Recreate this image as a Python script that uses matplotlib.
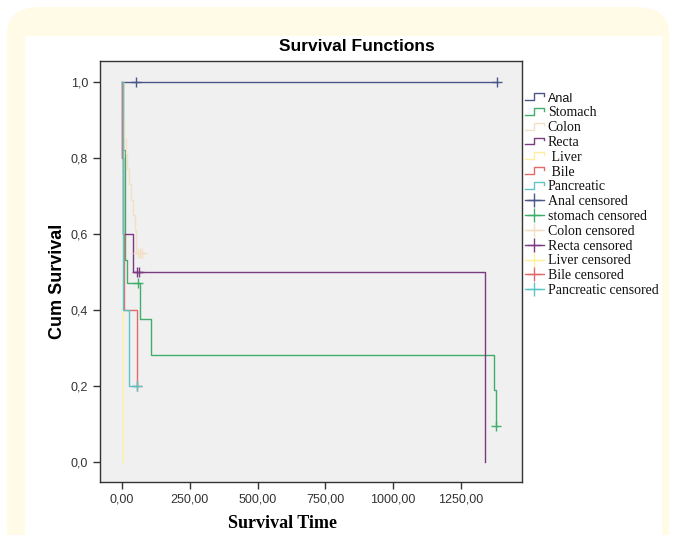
import matplotlib
matplotlib.use('Agg')
import matplotlib.pyplot as plt
from matplotlib.lines import Line2D
from matplotlib.legend_handler import HandlerBase
from matplotlib.patches import FancyBboxPatch, Rectangle
from matplotlib.ticker import FuncFormatter

# groupes et courbes de survie
groups = ['Anal', 'Stomach', 'Colon', 'Recta', 'Liver', 'Bile', 'Pancreatic']
legend_names = ['Anal', 'Stomach', 'Colon', 'Recta', ' Liver', ' Bile', 'Pancreatic']
censor_names = ['Anal censored', 'stomach censored', 'Colon censored', 'Recta censored',
                'Liver censored', 'Bile censored', 'Pancreatic censored']
colors = ['#4a5688', '#3fae6a', '#f3e0c4', '#7c3a80', '#fff0a0', '#e06a6a', '#5cc6c6']

anal_t = [0, 1383]
anal_s = [1.0, 1.0]
stomach_t = [0, 2, 5, 10, 18, 66, 107, 1372, 1380]
stomach_s = [1.0, 0.94, 0.82, 0.53, 0.47, 0.375, 0.28, 0.19, 0.095]
colon_t = [0, 2, 8, 14, 20, 27, 34, 41, 48, 53, 74]
colon_s = [1.0, 0.9, 0.85, 0.81, 0.77, 0.73, 0.69, 0.65, 0.61, 0.55, 0.55]
recta_t = [0, 1, 3, 42, 1340]
recta_s = [1.0, 0.8, 0.6, 0.5, 0.0]
liver_t = [0, 5]
liver_s = [1.0, 0.0]
bile_t = [0, 1, 3, 7, 55]
bile_s = [1.0, 0.8, 0.6, 0.4, 0.2]
pancreatic_t = [0, 2, 26, 55]
pancreatic_s = [1.0, 0.4, 0.2, 0.2]

# points censurés
cens_t = [[52, 1383], [58, 1380], [58, 66, 74], [55, 62], [], [55], [55]]
cens_s = [[1.0, 1.0], [0.47, 0.095], [0.55, 0.55, 0.55], [0.5, 0.5], [], [0.2], [0.2]]

curves_t = [anal_t, stomach_t, colon_t, recta_t, liver_t, bile_t, pancreatic_t]
curves_s = [anal_s, stomach_s, colon_s, recta_s, liver_s, bile_s, pancreatic_s]

xticks = [0, 250, 500, 750, 1000, 1250]
yticks = [0.0, 0.2, 0.4, 0.6, 0.8, 1.0]


class StepHandler(HandlerBase):
    def create_artists(self, legend, orig_handle, xdescent, ydescent,
                       width, height, fontsize, trans):
        x0 = -xdescent
        y0 = -ydescent
        xs = [x0, x0 + 0.45 * width, x0 + 0.45 * width, x0 + width, x0 + width]
        ys = [y0 + 0.15 * height, y0 + 0.15 * height, y0 + 0.85 * height,
              y0 + 0.85 * height, y0 + 0.6 * height]
        ln = Line2D(xs, ys, color=orig_handle.get_color(), lw=1.0, transform=trans)
        return [ln]


W, H = 676, 535
fig = plt.figure(figsize=(W / 100, H / 100), dpi=100)
fig.patch.set_facecolor('white')

# fond crème arrondi + panneau blanc
fig.patches.append(FancyBboxPatch((7 / W, -40 / H), 662 / W, (H - 7 + 40) / H,
                                  boxstyle='round,pad=0,rounding_size=0.05',
                                  transform=fig.transFigure, facecolor='#fffbe6',
                                  edgecolor='none', zorder=-2))
fig.patches.append(Rectangle((25 / W, 0), 637 / W, 499 / H, transform=fig.transFigure,
                             facecolor='white', edgecolor='none', zorder=-1))

ax = fig.add_axes([100 / W, 53 / H, 422 / W, 421 / H])
ax.set_facecolor('#f0f0f0')

for t, s, c in zip(curves_t, curves_s, colors):
    ax.step(t, s, where='post', color=c, lw=1.0)

for t, s, c in zip(cens_t, cens_s, colors):
    if t:
        ax.plot(t, s, linestyle='none', marker='+', markersize=7, mew=1.0, color=c)

ax.set_xlim(-81, 1475)
ax.set_ylim(-0.053, 1.055)
ax.set_xticks(xticks)
ax.set_yticks(yticks)
ax.xaxis.set_major_formatter(FuncFormatter(lambda v, p: '{:.2f}'.format(v).replace('.', ',')))
ax.yaxis.set_major_formatter(FuncFormatter(lambda v, p: '{:.1f}'.format(v).replace('.', ',')))
ax.tick_params(direction='out', length=5, width=1, color='#333333',
               labelsize=9, labelcolor='#333333')
for lbl in ax.get_xticklabels() + ax.get_yticklabels():
    lbl.set_family('Liberation Sans')
for sp in ax.spines.values():
    sp.set_color('#333333')
    sp.set_linewidth(1.0)

# titres placés comme dans SPSS (pas centrés sur les axes)
fig.text(357 / W, 1 - 47 / H, 'Survival Functions', fontsize=12.5, fontweight='bold',
         family='Liberation Sans', ha='center', va='center')
fig.text(57 / W, 1 - 281 / H, 'Cum Survival', fontsize=13, fontweight='bold',
         family='Liberation Sans', ha='center', va='center', rotation=90)
fig.text(282 / W, 1 - 523 / H, 'Survival Time', fontsize=13, fontweight='bold',
         family='Liberation Serif', ha='center', va='center')

handles = [Line2D([], [], color=c) for c in colors]
handles += [Line2D([], [], color=c, lw=1.0, marker='+', markersize=10, mew=1.0)
            for c in colors]
labels = legend_names + censor_names
handler_map = {h: StepHandler() for h in handles[:7]}
leg = ax.legend(handles, labels, handler_map=handler_map, loc='upper left',
                bbox_to_anchor=(0.995, 0.94), frameon=False, numpoints=1,
                prop={'family': 'Liberation Serif', 'size': 10},
                handlelength=1.3, handletextpad=0.3, labelspacing=0.13,
                borderaxespad=0.0)
leg.get_texts()[0].set_family('Liberation Sans')
leg.get_texts()[0].set_size(9)
for txt in leg.get_texts():
    txt.set_color('#111111')

fig.savefig('out.png', dpi=100, facecolor=fig.get_facecolor())
